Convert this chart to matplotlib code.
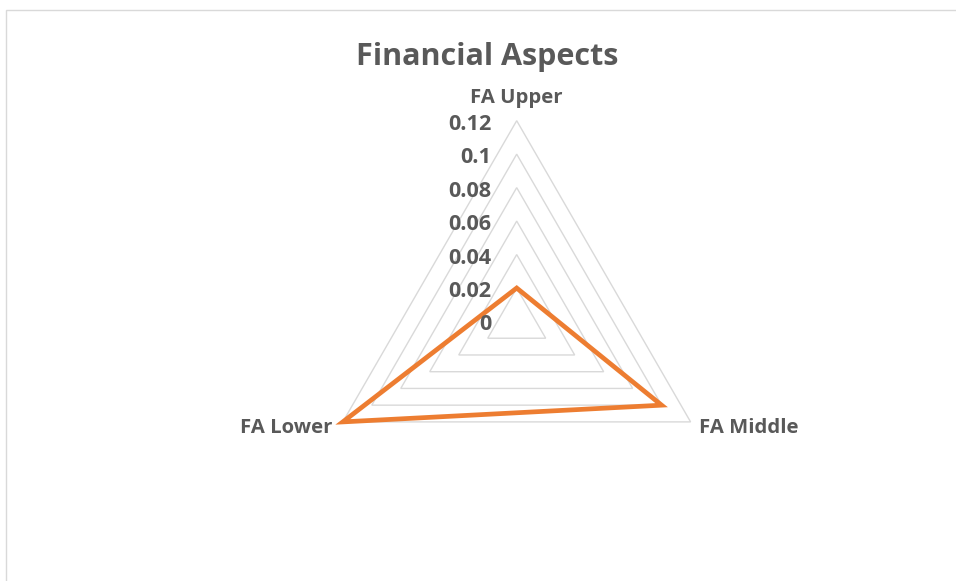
import numpy as np
import matplotlib
matplotlib.use("Agg")
import matplotlib.pyplot as plt
from matplotlib.patches import Rectangle

categories = ["FA Upper", "FA Middle", "FA Lower"]
values = [0.02, 0.10, 0.12]
ticks = [0, 0.02, 0.04, 0.06, 0.08, 0.1, 0.12]
tick_labels = ["0", "0.02", "0.04", "0.06", "0.08", "0.1", "0.12"]
title = "Financial Aspects"

W, H = 956, 581
fig = plt.figure(figsize=(W / 100, H / 100), dpi=100)
fig.patch.set_facecolor("white")

# chart border
fig.add_artist(Rectangle((6 / W, -0.05), 1.1, (H - 10) / H + 0.05, transform=fig.transFigure,
                         fill=False, edgecolor="#D9D9D9", linewidth=1.0))

ax = fig.add_axes([0, 0, 1, 1])
cx, cy = 516.7, H - 321.5
s = 200.8 / 0.12
ax.set_xlim(-cx / s, (W - cx) / s)
ax.set_ylim(-cy / s, (H - cy) / s)
ax.axis("off")

angles = np.deg2rad([90, -30, 210])

def xy(r):
    r = np.asarray(r)
    return r * np.cos(angles), r * np.sin(angles)

# grid triangles
for t in ticks[1:]:
    gx, gy = xy([t] * 3)
    ax.fill(gx, gy, fill=False, edgecolor="#D9D9D9", linewidth=1.0, zorder=1)

# data
dx, dy = xy(values)
ax.fill(dx, dy, fill=False, edgecolor="#ED7D31", linewidth=3.4, joinstyle="miter", zorder=3)

font = ["Open Sans", "DejaVu Sans"]
col = "#595959"

# tick labels
for t, lab in zip(ticks, tick_labels):
    ax.text(-25 / s, t - 3.5 / s, lab, ha="right", va="center", fontsize=15.6,
            fontweight="bold", color=col, family=font, zorder=4)

# category labels
ax.text(0, 0.12 + 23 / s, categories[0], ha="center", va="center", fontsize=14.6,
        fontweight="bold", color=col, family=font)
bx, by = xy([0.12] * 3)
ax.text(bx[1] + 8 / s, by[1] - 6.5 / s, categories[1], ha="left", va="center", fontsize=14.6,
        fontweight="bold", color=col, family=font)
ax.text(bx[2] - 10 / s, by[2] - 6.5 / s, categories[2], ha="right", va="center", fontsize=14.6,
        fontweight="bold", color=col, family=font)

fig.text(487 / W, 1 - 57 / H, title, ha="center", va="center", fontsize=22,
         fontweight="bold", color=col, family=font)

fig.savefig("out.png", dpi=100)
